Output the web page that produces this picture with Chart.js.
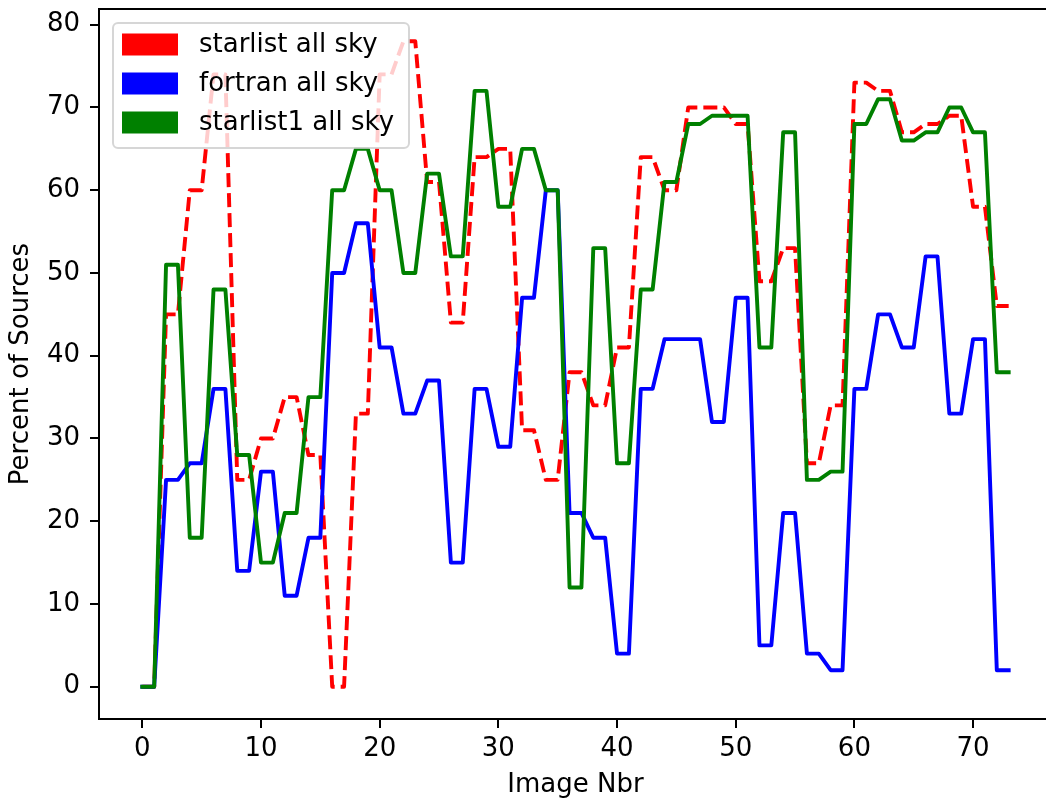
<!DOCTYPE html>
<html>
<head>
<meta charset="utf-8">
<script src="https://cdn.jsdelivr.net/npm/chart.js@4/dist/chart.umd.min.js"></script>
<style>
  html, body { margin: 0; padding: 0; background: #fff; overflow: hidden; }
  #wrap { width: 1060px; height: 801px; }
</style>
</head>
<body>
<div id="wrap"><canvas id="chart" width="1060" height="801"></canvas></div>
<script>
// image numbers on the x axis
const imageNbr = [
  0, 1, 2, 3, 4, 5, 6, 7, 8, 9, 10, 11, 12, 13, 14, 15, 16, 17, 18, 19,
  20, 21, 22, 23, 24, 25, 26, 27, 28, 29, 30, 31, 32, 33, 34, 35, 36, 37, 38, 39,
  40, 41, 42, 43, 44, 45, 46, 47, 48, 49, 50, 51, 52, 53, 54, 55, 56, 57, 58, 59,
  60, 61, 62, 63, 64, 65, 66, 67, 68, 69, 70, 71, 72, 73
];

const starlistAllSky = [
  0, 0, 45, 45, 60, 60, 74, 74, 25, 25, 30, 30, 35, 35, 28, 28, 0, 0, 33, 33,
  74, 74, 78, 78, 61, 61, 44, 44, 64, 64, 65, 65, 31, 31, 25, 25, 38, 38, 34, 34,
  41, 41, 64, 64, 60, 60, 70, 70, 70, 70, 68, 68, 49, 49, 53, 53, 27, 27, 34, 34,
  73, 73, 72, 72, 67, 67, 68, 68, 69, 69, 58, 58, 46, 46
];

const fortranAllSky = [
  0, 0, 25, 25, 27, 27, 36, 36, 14, 14, 26, 26, 11, 11, 18, 18, 50, 50, 56, 56,
  41, 41, 33, 33, 37, 37, 15, 15, 36, 36, 29, 29, 47, 47, 60, 60, 21, 21, 18, 18,
  4, 4, 36, 36, 42, 42, 42, 42, 32, 32, 47, 47, 5, 5, 21, 21, 4, 4, 2, 2,
  36, 36, 45, 45, 41, 41, 52, 52, 33, 33, 42, 42, 2, 2
];

const starlist1AllSky = [
  0, 0, 51, 51, 18, 18, 48, 48, 28, 28, 15, 15, 21, 21, 35, 35, 60, 60, 65, 65,
  60, 60, 50, 50, 62, 62, 52, 52, 72, 72, 58, 58, 65, 65, 60, 60, 12, 12, 53, 53,
  27, 27, 48, 48, 61, 61, 68, 68, 69, 69, 69, 69, 41, 41, 67, 67, 25, 25, 26, 26,
  68, 68, 71, 71, 66, 66, 67, 67, 70, 70, 67, 67, 38, 38
];

const FONT = 'DejaVu Sans';

// axes frame + matplotlib style legend box
const frameAndLegend = {
  id: 'frameAndLegend',
  afterDatasetsDraw(chart) {
    const { ctx, chartArea: a } = chart;
    ctx.save();
    ctx.strokeStyle = '#000';
    ctx.lineWidth = 2;
    ctx.strokeRect(a.left, a.top, a.right - a.left, a.bottom - a.top);

    // legend
    const bx = a.left + 14, by = a.top + 14, bw = 296, bh = 125, r = 5;
    ctx.beginPath();
    ctx.roundRect(bx, by, bw, bh, r);
    ctx.fillStyle = 'rgba(255,255,255,0.8)';
    ctx.fill();
    ctx.strokeStyle = 'rgba(204,204,204,0.8)';
    ctx.lineWidth = 2;
    ctx.stroke();

    ctx.font = '26px "' + FONT + '"';
    ctx.textBaseline = 'middle';
    ctx.textAlign = 'left';
    chart.data.datasets.forEach((ds, i) => {
      const cy = by + 21.5 + i * 39;
      ctx.fillStyle = ds.borderColor;
      ctx.fillRect(bx + 9, cy - 11, 56, 22);
      ctx.fillStyle = '#000';
      ctx.fillText(ds.label, bx + 86, cy + 1);
    });
    ctx.restore();
  }
};

new Chart(document.getElementById('chart'), {
  type: 'line',
  data: {
    labels: imageNbr,
    datasets: [
      {
        label: 'starlist all sky',
        data: starlistAllSky,
        borderColor: '#ff0000',
        borderDash: [14, 6],
        borderCapStyle: 'butt',
        order: 3
      },
      {
        label: 'fortran all sky',
        data: fortranAllSky,
        borderColor: '#0000ff',
        borderCapStyle: 'square',
        order: 2
      },
      {
        label: 'starlist1 all sky',
        data: starlist1AllSky,
        borderColor: '#008000',
        borderCapStyle: 'square',
        order: 1
      }
    ]
  },
  options: {
    responsive: false,
    animation: false,
    events: [],
    layout: { padding: { top: 9, right: 8, left: 0, bottom: 0 } },
    elements: {
      point: { radius: 0 },
      line: { borderWidth: 3.9, tension: 0, borderJoinStyle: 'round', fill: false }
    },
    plugins: {
      legend: { display: false },
      tooltip: { enabled: false }
    },
    scales: {
      x: {
        type: 'linear',
        min: -3.65,
        max: 76.65,
        afterFit: (s) => { s.height = 82; s.paddingLeft = 0; s.paddingRight = 0; },
        ticks: {
          stepSize: 10,
          includeBounds: false,
          color: '#000',
          padding: 6,
          font: { family: FONT, size: 26 }
        },
        grid: { drawOnChartArea: false, drawTicks: true, tickLength: 9, color: '#000', lineWidth: 2 },
        border: { display: true, color: '#000', width: 2 },
        title: {
          display: true,
          text: 'Image Nbr',
          color: '#000',
          padding: 0,
          font: { family: FONT, size: 26 }
        }
      },
      y: {
        min: -3.9,
        max: 81.9,
        afterFit: (s) => { s.width = 99; s.paddingTop = 0; s.paddingBottom = 0; },
        ticks: {
          stepSize: 10,
          includeBounds: false,
          color: '#000',
          padding: 10,
          font: { family: FONT, size: 26 }
        },
        grid: { drawOnChartArea: false, drawTicks: true, tickLength: 9, color: '#000', lineWidth: 2 },
        border: { display: true, color: '#000', width: 2 },
        title: {
          display: true,
          text: 'Percent of Sources',
          color: '#000',
          padding: { top: 6, bottom: 0 },
          font: { family: FONT, size: 26 }
        }
      }
    }
  },
  plugins: [frameAndLegend]
});
</script>
</body>
</html>
